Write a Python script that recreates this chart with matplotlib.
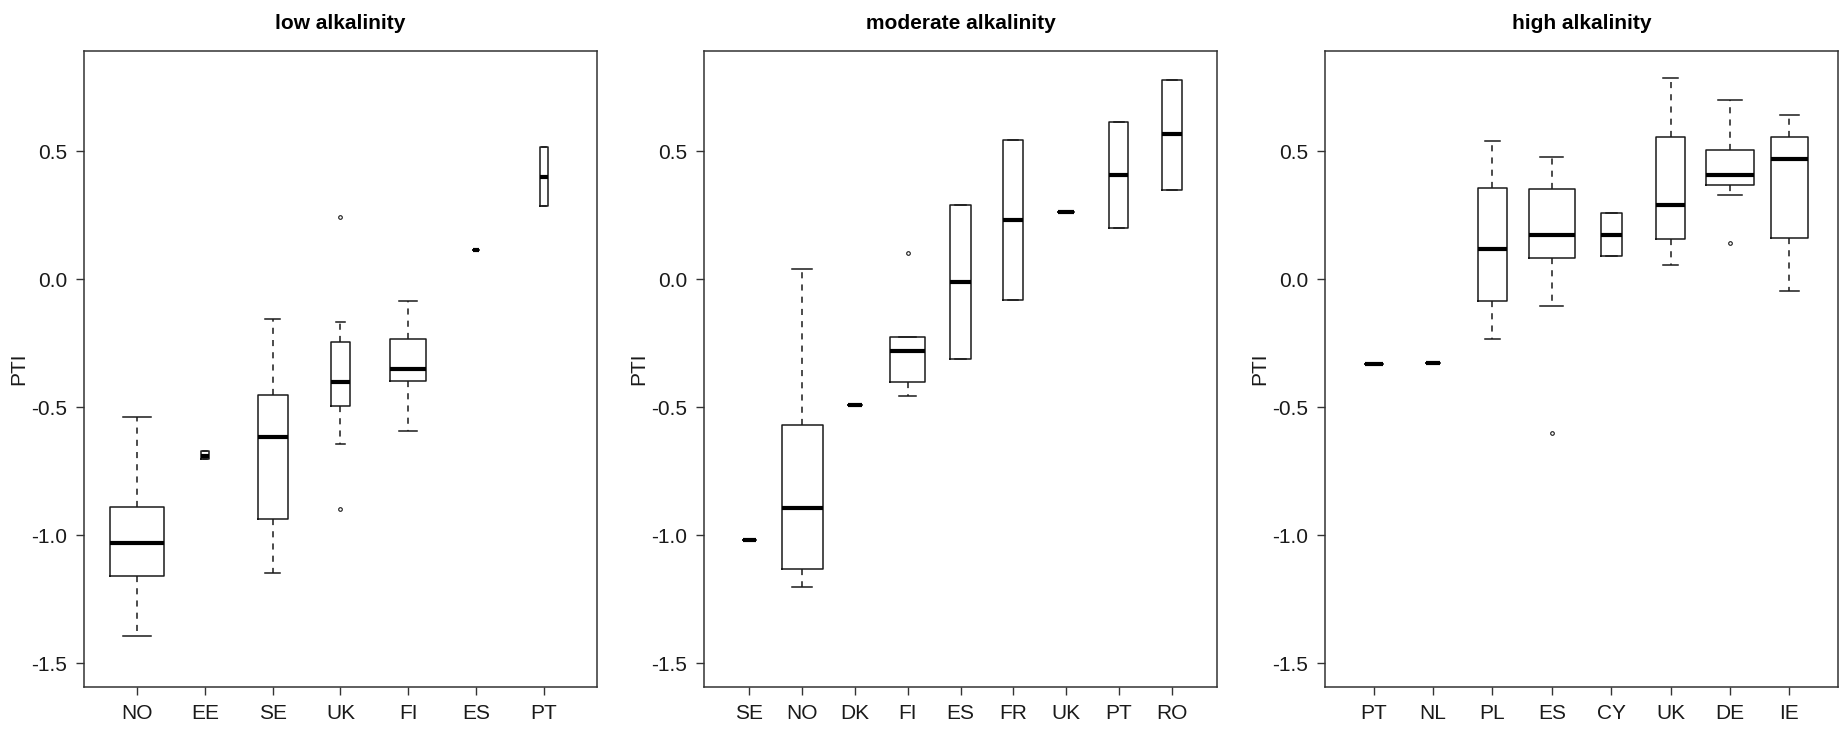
import matplotlib
matplotlib.use("Agg")
import matplotlib.pyplot as plt

plt.rcParams['font.family'] = ['Liberation Sans', 'DejaVu Sans']

# ---------------- data ----------------
titles = ["low alkalinity", "moderate alkalinity", "high alkalinity"]

cats_low = ['NO', 'EE', 'SE', 'UK', 'FI', 'ES', 'PT']
q1_low = [-1.160, -0.702, -0.936, -0.493, -0.397, 0.114, 0.285]
med_low = [-1.030, -0.690, -0.614, -0.401, -0.351, 0.114, 0.399]
q3_low = [-0.890, -0.672, -0.452, -0.246, -0.233, 0.114, 0.517]
wlo_low = [-1.393, -0.702, -1.147, -0.642, -0.592, 0.114, 0.285]
whi_low = [-0.537, -0.672, -0.153, -0.167, -0.083, 0.114, 0.517]
out_low = [[], [], [], [0.244, -0.897], [], [], []]

cats_mod = ['SE', 'NO', 'DK', 'FI', 'ES', 'FR', 'UK', 'PT', 'RO']
q1_mod = [-1.016, -1.132, -0.489, -0.401, -0.311, -0.079, 0.263, 0.199, 0.349]
med_mod = [-1.016, -0.891, -0.489, -0.281, -0.009, 0.230, 0.263, 0.408, 0.566]
q3_mod = [-1.016, -0.568, -0.489, -0.224, 0.290, 0.546, 0.263, 0.614, 0.778]
wlo_mod = [-1.016, -1.202, -0.489, -0.456, -0.311, -0.079, 0.263, 0.199, 0.349]
whi_mod = [-1.016, 0.039, -0.489, -0.224, 0.290, 0.546, 0.263, 0.614, 0.778]
out_mod = [[], [], [], [0.103], [], [], [], [], []]

cats_high = ['PT', 'NL', 'PL', 'ES', 'CY', 'UK', 'DE', 'IE']
q1_high = [-0.331, -0.325, -0.086, 0.083, 0.092, 0.158, 0.369, 0.162]
med_high = [-0.331, -0.325, 0.119, 0.175, 0.175, 0.290, 0.408, 0.472]
q3_high = [-0.331, -0.325, 0.358, 0.353, 0.261, 0.555, 0.507, 0.555]
wlo_high = [-0.331, -0.325, -0.233, -0.105, 0.092, 0.055, 0.331, -0.044]
whi_high = [-0.331, -0.325, 0.539, 0.478, 0.261, 0.787, 0.702, 0.643]
out_high = [[], [], [], [-0.599], [], [], [0.142], []]

yticks = [-1.5, -1.0, -0.5, 0.0, 0.5]
ytick_labels = ["-1.5", "-1.0", "-0.5", "0.0", "0.5"]

# box widths (varwidth style)
widths_low = [0.80, 0.12, 0.44, 0.29, 0.53, 0.09, 0.12]
widths_mod = [0.25, 0.78, 0.28, 0.66, 0.38, 0.38, 0.29, 0.36, 0.38]
widths_high = [0.30, 0.25, 0.48, 0.77, 0.36, 0.50, 0.81, 0.63]

panels = [
    (cats_low, q1_low, med_low, q3_low, wlo_low, whi_low, out_low, widths_low),
    (cats_mod, q1_mod, med_mod, q3_mod, wlo_mod, whi_mod, out_mod, widths_mod),
    (cats_high, q1_high, med_high, q3_high, wlo_high, whi_high, out_high, widths_high),
]

# ---------------- figure ----------------
W, H = 1843, 734
fig = plt.figure(figsize=(W / 100, H / 100), dpi=100)

ax_left_px = [84, 704, 1325]
ax_w_px = 513
ax_top_px, ax_bot_px = 51, 687
ylab_off = 56

ylo, yhi = -1.5, 0.8
yr = yhi - ylo

line_col = '#1a1a1a'
frame_col = '#333333'
text_col = '#1a1a1a'

for i, (cats, q1, med, q3, wlo, whi, outs, widths) in enumerate(panels):
    ax = fig.add_axes([ax_left_px[i] / W, (H - ax_bot_px) / H,
                       ax_w_px / W, (ax_bot_px - ax_top_px) / H])
    stats = []
    for j in range(len(cats)):
        stats.append(dict(med=med[j], q1=q1[j], q3=q3[j],
                          whislo=wlo[j], whishi=whi[j], fliers=outs[j]))
    n = len(cats)
    pos = list(range(1, n + 1))
    ax.bxp(stats, positions=pos, widths=widths,
           capwidths=[w / 2 for w in widths],
           showfliers=True,
           boxprops=dict(color=line_col, linewidth=1.1),
           medianprops=dict(color='black', linewidth=3.0, solid_capstyle='butt'),
           whiskerprops=dict(color=line_col, linewidth=1.1, linestyle=(0, (4, 4))),
           capprops=dict(color=line_col, linewidth=1.1),
           flierprops=dict(marker='o', markersize=2.6, markerfacecolor='none',
                           markeredgecolor=line_col, markeredgewidth=0.8))
    ax.set_xlim(0.5 - 0.04 * n, n + 0.5 + 0.04 * n)
    ax.set_ylim(ylo - 0.04 * yr, yhi + 0.04 * yr)
    ax.set_xticks(pos)
    ax.set_xticklabels(cats)
    ax.set_yticks(yticks)
    ax.set_yticklabels(ytick_labels)
    ax.tick_params(axis='both', direction='out', length=6, width=1.0,
                   colors=frame_col, labelcolor=text_col, labelsize=15, pad=6)
    for sp in ax.spines.values():
        sp.set_color(frame_col)
        sp.set_linewidth(1.1)
    ax.set_title(titles[i], fontsize=15, fontweight='bold', pad=16, color='black')
    ax.set_ylabel("PTI", fontsize=15, color=text_col)
    ax.yaxis.set_label_coords(-ylab_off / ax_w_px, 0.5)

fig.savefig("out.png", dpi=100, facecolor='white')
